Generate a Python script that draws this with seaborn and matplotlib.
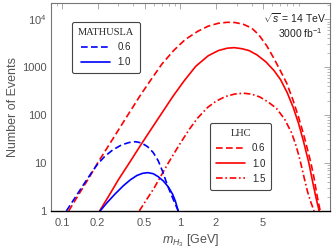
import numpy as np
import pandas as pd
import seaborn as sns
import matplotlib.pyplot as plt
from matplotlib.ticker import FixedLocator, FixedFormatter, LogLocator, NullFormatter

# values (mass in GeV, number of events)
lhc06_m = [0.114, 0.14, 0.17, 0.2, 0.25, 0.3, 0.37, 0.464, 0.565, 0.7, 0.886, 1.1, 1.4, 1.72, 2.1,
           2.5, 2.9, 3.4, 4.0, 4.6, 5.37, 6.2, 7.0, 7.95, 9.0, 10.0, 11.0, 12.0, 12.7, 13.5, 14.3, 15.2]
lhc06_n = [1, 2.3, 5.0, 10, 24, 49, 112, 270, 550, 1175, 2290, 3800, 5620, 7240, 8320,
           8710, 8610, 7940, 6610, 4790, 2820, 1510, 850, 457, 200, 89, 40, 17.4, 10, 4.8, 2.1, 1]
lhc10_m = [0.208, 0.25, 0.3, 0.37, 0.464, 0.57, 0.7, 0.87, 1.08, 1.35, 1.72, 2.1, 2.5, 2.86, 3.3,
           3.8, 4.44, 5.3, 6.2, 7.04, 8.0, 9.0, 10.0, 11.0, 12.2, 13.2, 14.0, 14.9]
lhc10_n = [1, 2.1, 4.5, 10, 24, 52, 112, 251, 525, 1050, 1740, 2240, 2510, 2570, 2450,
           2240, 1820, 1290, 850, 550, 295, 145, 66, 28, 10, 3.8, 1.9, 1]
lhc15_m = [0.45, 0.6, 0.8, 1.0, 1.2, 1.4, 1.7, 2.0, 2.4, 2.86, 3.4, 4.0, 4.7, 5.5, 6.5,
           7.6, 8.7, 9.4, 10.0, 10.6, 11.2, 11.9, 12.7, 13.5]
lhc15_n = [1, 3.0, 10.5, 26, 52, 87, 145, 195, 245, 275, 288, 275, 240, 190, 138,
           83, 43, 25, 14.8, 8.3, 4.6, 2.5, 1.5, 1]
math06_m = [0.109, 0.13, 0.155, 0.18, 0.2, 0.23, 0.27, 0.32, 0.37, 0.42, 0.47, 0.53, 0.59, 0.65,
            0.71, 0.77, 0.83, 0.89, 0.96]
math06_n = [1, 1.95, 3.8, 6.6, 9.5, 13.8, 19, 24, 26.9, 27.9, 26.3, 21.9, 16.6, 11.2,
            6.6, 3.7, 2.3, 1.55, 1]
math10_m = [0.21, 0.24, 0.28, 0.332, 0.38, 0.43, 0.48, 0.53, 0.59, 0.65, 0.72, 0.79, 0.86, 0.91, 0.96]
math10_n = [1, 1.48, 2.24, 3.4, 4.5, 5.5, 6.1, 6.3, 6.0, 5.2, 4.2, 3.2, 2.24, 1.58, 1]

xticks = [0.1, 0.2, 0.5, 1, 2, 5]
xtick_labels = ['0.1', '0.2', '0.5', '1', '2', '5']
yticks = [1, 10, 100, 1000, 10000]
ytick_labels = ['1', '10', '100', '1000', r'$10^4$']

sns.set_style('white')
plt.rcParams['font.family'] = ['Liberation Sans', 'DejaVu Sans']
plt.rcParams['mathtext.fontset'] = 'custom'
plt.rcParams['mathtext.rm'] = 'Liberation Sans'
plt.rcParams['mathtext.it'] = 'Liberation Sans:italic'

fig, ax = plt.subplots(figsize=(3.32, 2.52), dpi=100)
fig.subplots_adjust(left=0.154, right=0.994, bottom=0.163, top=0.988)

red, blue = '#ff0000', '#0000ff'
lw = 1.2
curves = [
    (lhc06_m, lhc06_n, red, (4, 2)),
    (lhc10_m, lhc10_n, red, ''),
    (lhc15_m, lhc15_n, red, (4, 1.6, 1, 1.6)),
    (math06_m, math06_n, blue, (4, 2)),
    (math10_m, math10_n, blue, ''),
]
handles = []
for m, n, c, d in curves:
    df = pd.DataFrame({'m': m, 'n': n})
    sns.lineplot(data=df, x='m', y='n', ax=ax, color=c, lw=lw, sort=False)
    line = ax.lines[-1]
    if d:
        line.set_dashes(d)
    handles.append(line)

ax.set_xscale('log')
ax.set_yscale('log')
ax.set_xlim(0.081, 18.4)
ax.set_ylim(1, 22000)

gray = '#555555'
ax.xaxis.set_major_locator(FixedLocator(xticks))
ax.xaxis.set_major_formatter(FixedFormatter(xtick_labels))
ax.xaxis.set_minor_locator(LogLocator(base=10, subs=np.arange(1, 10)))
ax.xaxis.set_minor_formatter(NullFormatter())
ax.yaxis.set_major_locator(FixedLocator(yticks))
ax.yaxis.set_major_formatter(FixedFormatter(ytick_labels))
ax.yaxis.set_minor_locator(LogLocator(base=10, subs=np.arange(2, 10)))
ax.yaxis.set_minor_formatter(NullFormatter())
ax.tick_params(which='both', direction='in', top=True, right=True, colors='#999999',
               labelcolor=gray, labelsize=8)
ax.tick_params(which='major', length=4, width=0.6)
ax.tick_params(which='minor', length=2, width=0.5)
ax.tick_params(axis='x', pad=5)
for s in ax.spines.values():
    s.set_color('#777777')
    s.set_linewidth(0.8)
ax.spines['bottom'].set_color('black')
ax.spines['bottom'].set_linewidth(1.0)

ax.set_xlabel(r'$m_{H_3}$ [GeV]', color=gray, fontsize=9, labelpad=3)
ax.set_ylabel('Number of Events', color=gray, fontsize=9, labelpad=2)

ax.text(0.985, 0.928, r'$\sqrt{s}$ = 14 TeV', transform=ax.transAxes, ha='right', va='center',
        fontsize=7.5, color='#222222')
ax.text(0.975, 0.855, r'3000 fb$^{-1}$', transform=ax.transAxes, ha='right', va='center',
        fontsize=7.5, color='#222222')

leg_kw = dict(frameon=True, fancybox=True, framealpha=1, edgecolor='#444444', fontsize=7,
              handlelength=3.0, borderaxespad=0, labelspacing=0.55, handletextpad=0.7,
              borderpad=0.6, title_fontproperties={'family': 'Liberation Serif', 'size': 7.5})
leg1 = ax.legend(handles[3:], ['0.6', '1.0'], title='MATHUSLA', loc='upper left',
                 bbox_to_anchor=(0.075, 0.909), **leg_kw)
leg1.get_frame().set_linewidth(0.8)
ax.add_artist(leg1)
leg2 = ax.legend(handles[:3], ['0.6', '1.0', '1.5'], title='LHC', loc='upper left',
                 bbox_to_anchor=(0.57, 0.423), **leg_kw)
leg2.get_frame().set_linewidth(0.8)

plt.savefig('out.png', dpi=100)
